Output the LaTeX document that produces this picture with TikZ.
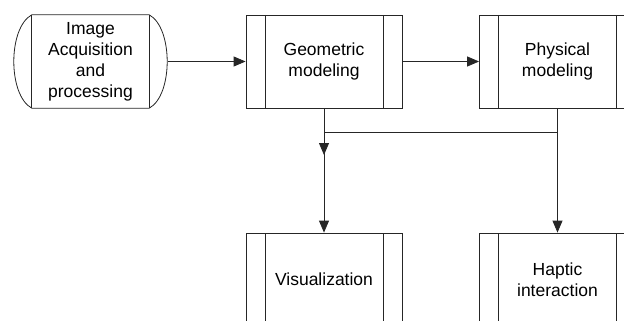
\documentclass[tikz,border=0pt]{standalone}
\usepackage{fontspec}
\setmainfont{Liberation Sans}
\usetikzlibrary{arrows.meta}
\begin{document}
\begin{tikzpicture}[x=1pt,y=1pt,
  every node/.style={font=\fontsize{17.5}{21}\selectfont, align=center, inner sep=0pt},
  line/.style={draw=black!85, line width=0.8pt},
  arr/.style={line, -{Triangle[length=12pt,width=10pt]}},
  subproc/.style={line, minimum width=156pt, minimum height=93pt,
    path picture={
      \draw[line] ([xshift=19pt]path picture bounding box.north west) -- ([xshift=19pt]path picture bounding box.south west);
      \draw[line] ([xshift=-19pt]path picture bounding box.north east) -- ([xshift=-19pt]path picture bounding box.south east);
    }},
  term/.style={minimum width=155pt, minimum height=93pt}
]
\useasboundingbox (0,0) rectangle (624,-321);
\node[term] (img) at (90.5,-61.5) {Image\\Acquisition\\and\\processing};
\draw[line] ([xshift=19pt]img.north west) -- ([xshift=-19pt]img.north east)
  .. controls +(24pt,-13pt) and +(24pt,13pt) .. ([xshift=-19pt]img.south east)
  -- ([xshift=19pt]img.south west)
  .. controls +(-24pt,13pt) and +(-24pt,-13pt) .. cycle;
\draw[line] ([xshift=19pt]img.north west) -- ([xshift=19pt]img.south west);
\draw[line] ([xshift=-19pt]img.north east) -- ([xshift=-19pt]img.south east);
\node[subproc] (geo) at (324,-61.5) {Geometric\\modeling};
\node[subproc] (phy) at (557.5,-61.5) {Physical\\modeling};
\node[subproc] (vis) at (324,-279.5) {Visualization};
\node[subproc] (hap) at (557.5,-279.5) {Haptic\\interaction};
\coordinate (j) at (324,-132);
\coordinate (k) at (324,-155);
\draw[arr] (img.east) -- (geo.west);
\draw[arr] (geo.east) -- (phy.west);
\draw[arr] (geo.south) -- (vis.north);
\draw[arr] (phy.south) -- (hap.north);
\draw[arr] (phy.south) |- (j) -- (k);
\end{tikzpicture}
\end{document}
